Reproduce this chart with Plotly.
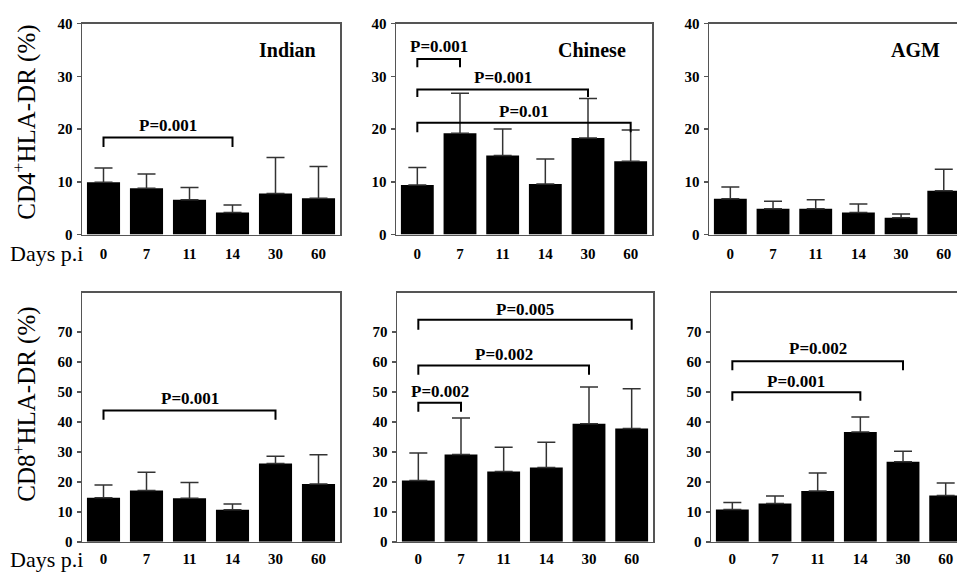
import plotly.graph_objects as go

days = ["0", "7", "11", "14", "30", "60"]

cd4_indian_mean = [9.9, 8.8, 6.6, 4.2, 7.8, 6.9]
cd4_indian_sd = [2.7, 2.7, 2.3, 1.4, 6.8, 6.0]
cd4_chinese_mean = [9.4, 19.2, 15.0, 9.6, 18.3, 13.9]
cd4_chinese_sd = [3.3, 7.6, 5.0, 4.7, 7.5, 5.9]
cd4_agm_mean = [6.8, 4.9, 4.9, 4.2, 3.2, 8.3]
cd4_agm_sd = [2.2, 1.4, 1.7, 1.6, 0.7, 4.1]

cd8_indian_mean = [14.7, 17.1, 14.5, 10.7, 26.1, 19.3]
cd8_indian_sd = [4.2, 6.1, 5.3, 1.9, 2.4, 9.7]
cd8_chinese_mean = [20.4, 29.1, 23.4, 24.8, 39.4, 37.8]
cd8_chinese_sd = [9.2, 12.2, 8.1, 8.4, 12.2, 13.2]
cd8_agm_mean = [10.8, 12.8, 16.9, 36.6, 26.7, 15.4]
cd8_agm_sd = [2.3, 2.5, 6.0, 5.0, 3.5, 4.2]

# brackets: (from day index, to day index, bar level, tick end level, label, label level)
cd4_indian_brackets = [(0, 3, 18.4, 16.6, "P=0.001", 20.6)]
cd4_chinese_brackets = [(0, 1, 33.3, 31.7, "P=0.001", 35.6),
                        (0, 4, 27.5, 26.1, "P=0.001", 29.8),
                        (0, 5, 21.2, 19.4, "P=0.01", 23.4)]
cd4_agm_brackets = []
cd8_indian_brackets = [(0, 4, 43.8, 40.7, "P=0.001", 47.8)]
cd8_chinese_brackets = [(0, 5, 74.0, 70.7, "P=0.005", 77.6),
                        (0, 4, 58.8, 55.7, "P=0.002", 62.4),
                        (0, 1, 46.4, 43.4, "P=0.002", 50.0)]
cd8_agm_brackets = [(0, 4, 60.2, 57.2, "P=0.002", 64.6),
                    (0, 3, 49.9, 47.0, "P=0.001", 53.5)]

group_names = ["Indian", "Chinese", "AGM"]

W, H = 957, 577
SERIF = "Liberation Serif"

panels = [
    # (mean, sd, brackets, x-domain px, y-domain px, y max, y ticks, x range max, right border, label standoff)
    (cd4_indian_mean, cd4_indian_sd, cd4_indian_brackets, (82, 340), (16, 233), 40, [0, 10, 20, 30, 40], 5.5, True, 5),
    (cd4_chinese_mean, cd4_chinese_sd, cd4_chinese_brackets, (396, 652), (16, 233), 40, [0, 10, 20, 30, 40], 5.5, True, 5),
    (cd4_agm_mean, cd4_agm_sd, cd4_agm_brackets, (709, 957), (16, 233), 40, [0, 10, 20, 30, 40], 5.31, False, 5),
    (cd8_indian_mean, cd8_indian_sd, cd8_indian_brackets, (82, 340), (293, 549), 83, [0, 10, 20, 30, 40, 50, 60, 70], 5.5, True, 3),
    (cd8_chinese_mean, cd8_chinese_sd, cd8_chinese_brackets, (397, 653), (293, 549), 83, [0, 10, 20, 30, 40, 50, 60, 70], 5.5, True, 3),
    (cd8_agm_mean, cd8_agm_sd, cd8_agm_brackets, (711, 957), (293, 549), 83, [0, 10, 20, 30, 40, 50, 60, 70], 5.265, False, 3),
]

fig = go.Figure()
annotations = []
layout = {}
axis_col = "#555555"
tickfont = dict(family=SERIF, size=15, color="black", weight="bold")

for i, (mean, sd, brackets, xd, yd, ymax, yticks, xmax, rborder, standoff) in enumerate(panels):
    n = i + 1
    xa = "x" if n == 1 else f"x{n}"
    ya = "y" if n == 1 else f"y{n}"
    fig.add_trace(go.Bar(
        x=days, y=mean, xaxis=xa, yaxis=ya,
        marker=dict(color="black", line=dict(width=0)),
        error_y=dict(type="data", array=sd, arrayminus=[0] * len(sd), symmetric=False,
                     color="#333333", thickness=1.5, width=9),
        showlegend=False,
    ))
    for (a, b, ylev, yend, lab, ylab) in brackets:
        fig.add_trace(go.Scatter(
            x=[days[a], days[a], days[b], days[b]], y=[yend, ylev, ylev, yend],
            xaxis=xa, yaxis=ya, mode="lines",
            line=dict(color="black", width=2), showlegend=False, hoverinfo="skip",
        ))
        annotations.append(dict(
            x=(a + b) / 2, y=ylab, xref=xa, yref=ya, text=f"<b>{lab}</b>",
            showarrow=False, xanchor="center", yanchor="middle",
            font=dict(family=SERIF, size=17, color="black"),
        ))
    xkey = "xaxis" if n == 1 else f"xaxis{n}"
    ykey = "yaxis" if n == 1 else f"yaxis{n}"
    layout[xkey] = dict(
        domain=[xd[0] / W, xd[1] / W], anchor=ya, type="category",
        range=[-0.5, xmax], showline=True, linecolor=axis_col, linewidth=1.5,
        mirror=True, ticks="", showgrid=False, zeroline=False,
        tickfont=tickfont, ticklabelstandoff=standoff, fixedrange=True,
    )
    layout[ykey] = dict(
        domain=[1 - yd[1] / H, 1 - yd[0] / H], anchor=xa,
        range=[0, ymax], tickvals=yticks, showline=True, linecolor=axis_col,
        linewidth=1.5, mirror=rborder, ticks="outside", ticklen=4,
        tickcolor=axis_col, tickwidth=1.5, showgrid=False, zeroline=False,
        tickfont=tickfont, ticklabelstandoff=1, fixedrange=True,
    )

# group labels
for name, xpx in zip(group_names, [287, 592, 915]):
    annotations.append(dict(
        x=xpx / W, y=1 - 43 / H, xref="paper", yref="paper", text=f"<b>{name}</b>",
        showarrow=False, xanchor="center", yanchor="middle",
        font=dict(family=SERIF, size=20, color="black"),
    ))

# y-axis titles
for txt, ypx in [("CD4<sup>+</sup>HLA-DR (%)", 118), ("CD8<sup>+</sup>HLA-DR (%)", 408)]:
    annotations.append(dict(
        x=25 / W, y=1 - ypx / H, xref="paper", yref="paper", text=txt, textangle=-90,
        showarrow=False, xanchor="center", yanchor="middle",
        font=dict(family=SERIF, size=25, color="black"),
    ))

# Days p.i labels
for ypx in [253, 567]:
    annotations.append(dict(
        x=8 / W, y=1 - ypx / H, xref="paper", yref="paper", text="Days p.i",
        showarrow=False, xanchor="left", yanchor="middle",
        font=dict(family=SERIF, size=22, color="black"),
    ))

fig.update_layout(
    width=W, height=H, margin=dict(l=0, r=0, t=0, b=0),
    paper_bgcolor="white", plot_bgcolor="white", bargap=0.23,
    annotations=annotations, hovermode=False, **layout,
)

fig.write_html(
    "out.html",
    config={"displayModeBar": False, "staticPlot": True},
    post_script="document.body.style.margin='0';document.body.style.overflow='hidden';",
)
